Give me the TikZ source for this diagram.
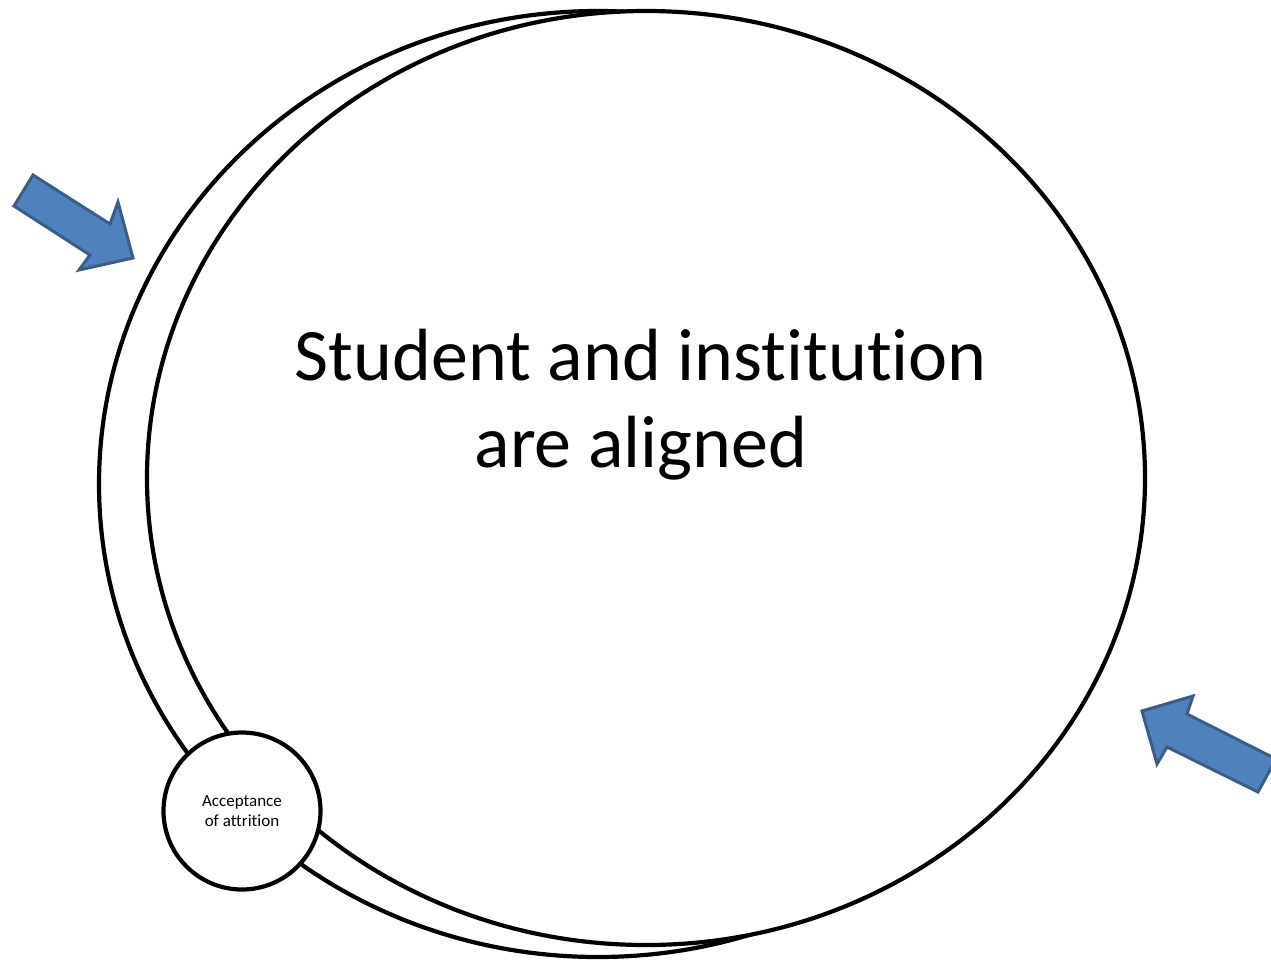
\documentclass[tikz,border=0pt]{standalone}
\usepackage{fontspec}
\setmainfont{Carlito}[Ligatures=NoCommon]
\definecolor{arrowfill}{HTML}{4F81BD}
\definecolor{arrowedge}{HTML}{385D8A}
\tikzset{
  ring/.style={draw=black, line width=4.2pt},
  blockarrow/.style={fill=arrowfill, draw=arrowedge, line width=3pt, line join=miter},
}

\begin{document}
\begin{tikzpicture}[x=1pt, y=-1pt, every node/.style={align=center, inner sep=0pt}]
\useasboundingbox (0,0) rectangle (1271,962);

% the two rings
\draw[ring] (598,484) ellipse [x radius=499, y radius=473];
\draw[ring, fill=white] (646,478) ellipse [x radius=499, y radius=467];

\node[font=\fontsize{74}{87}\selectfont] (aligned) at (641,405) {Student and institution\\are aligned};

\node[ring, circle, fill=white, minimum size=157pt, font=\fontsize{17}{20.5}\selectfont] (accept) at (242,811) {Acceptance\\of attrition};

% arrows pushing in
\draw[blockarrow] (33,175) -- (110,224) -- (118,202) -- (133,258) -- (79,270) -- (90,255) -- (14,206) -- cycle;
\draw[blockarrow] (1142,711) -- (1193,696) -- (1187,714) -- (1276,759) -- (1258,792) -- (1167,747) -- (1157,764) -- cycle;
\end{tikzpicture}
\end{document}
